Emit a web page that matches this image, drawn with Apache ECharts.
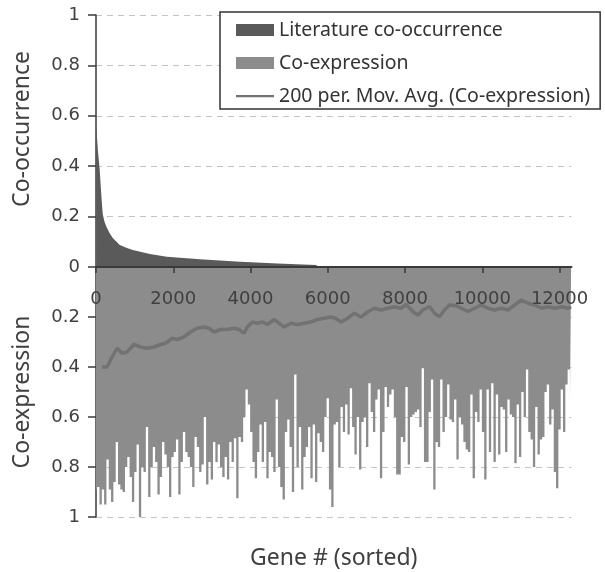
<!DOCTYPE html>
<html>
<head>
    <meta charset="utf-8">
    <script src="https://cdn.jsdelivr.net/npm/echarts@6.0.0/dist/echarts.min.js"></script>
    <style>
        html, body { margin: 0; padding: 0; background: #fff; }
        #main { width: 605px; height: 572px; }
    </style>
</head>
<body>
    <div id="main"></div>
    <script>
        // x axis tick labels (gene rank)
        var geneTicks = [0, 2000, 4000, 6000, 8000, 10000, 12000];
        var geneMax = 12310;

        // literature co-occurrence (sorted, decaying)
        var litGenes = [0, 10, 50, 96, 140, 174, 220, 270, 350, 434, 615, 800, 953, 1394, 1835, 2692, 3730, 4700, 5700, 5750];
        var litValues = [0.56, 0.55, 0.46, 0.385, 0.28, 0.21, 0.18, 0.16, 0.135, 0.115, 0.087, 0.075, 0.067, 0.052, 0.041, 0.031, 0.021, 0.014, 0.008, 0];

        // co-expression, one value per bin of 60 genes
        var binSize = 60;
        var coexprValues = [
            0.90, 0.88, 0.95, 0.89, 0.95, 0.77, 0.89, 0.94, 0.86, 0.70,
            0.87, 0.89, 0.90, 0.80, 0.76, 0.84, 0.94, 0.82, 0.71, 1.00,
            0.80, 0.82, 0.64, 0.92, 0.80, 0.72, 0.78, 0.91, 0.84, 0.70,
            0.75, 0.80, 0.92, 0.76, 0.74, 0.69, 0.91, 0.78, 0.66, 0.74,
            0.76, 0.80, 0.88, 0.68, 0.72, 0.82, 0.79, 0.60, 0.87, 0.78,
            0.85, 0.70,
            0.78, 0.71, 0.80, 0.84, 0.76, 0.85, 0.70, 0.78, 0.685, 0.925,
            0.68, 0.70, 0.60, 0.49, 0.55, 0.66, 0.78, 0.845, 0.74, 0.63,
            0.78, 0.62, 0.845, 0.74, 0.76, 0.82, 0.53, 0.80, 0.88, 0.93,
            0.66, 0.61, 0.72, 0.90, 0.43, 0.80, 0.64, 0.89, 0.76, 0.72,
            0.64, 0.845, 0.63, 0.86, 0.665, 0.70, 0.74, 0.60, 0.525, 0.89,
            0.96, 0.63,
            0.62, 0.80, 0.56, 0.66, 0.55, 0.67, 0.485, 0.64, 0.75, 0.60,
            0.81, 0.62, 0.60, 0.72, 0.465, 0.58, 0.66, 0.53, 0.49, 0.845,
            0.66, 0.48, 0.56, 0.51, 0.49, 0.60, 0.83, 0.83, 0.68, 0.70,
            0.48, 0.79, 0.60, 0.59, 0.58, 0.57, 0.64, 0.405, 0.78, 0.78,
            0.58, 0.45, 0.89, 0.70, 0.72, 0.45, 0.66, 0.60, 0.47, 0.61,
            0.62, 0.53,
            0.77, 0.60, 0.63, 0.70, 0.73, 0.74, 0.51, 0.845, 0.58, 0.62,
            0.49, 0.66, 0.85, 0.49, 0.74, 0.465, 0.78, 0.51, 0.75, 0.56,
            0.57, 0.74, 0.53, 0.59, 0.60, 0.785, 0.55, 0.76, 0.50, 0.60,
            0.41, 0.66, 0.69, 0.80, 0.56, 0.75, 0.69, 0.68, 0.50, 0.47,
            0.63, 0.57, 0.82, 0.885, 0.65, 0.49, 0.66, 0.47, 0.41, 0.54
        ];

        // 200 per. moving average of co-expression
        var maGenes = [156, 286, 416, 546, 676, 805, 978, 1151, 1324, 1497,
            1670, 1800, 1973, 2103, 2276, 2449, 2622, 2795, 2925, 3054,
            3227, 3400, 3573, 3703, 3833, 3919, 4049, 4179, 4309, 4438,
            4611, 4741, 4871, 5044, 5217, 5390, 5563, 5736, 5909, 6082,
            6200, 6341, 6514, 6687, 6860, 7033, 7206, 7379, 7552, 7725,
            7898, 8028, 8201, 8331, 8460, 8633, 8763, 8893, 9023, 9152,
            9325, 9455, 9628, 9801, 9974, 10147, 10320, 10493, 10666, 10839,
            11012, 11185, 11358, 11531, 11704, 11877, 12050, 12223, 12300];
        var maValues = [0.40, 0.40, 0.36, 0.325, 0.345, 0.34, 0.31, 0.32, 0.325, 0.32,
            0.31, 0.305, 0.285, 0.29, 0.28, 0.26, 0.245, 0.24, 0.245, 0.26,
            0.25, 0.25, 0.245, 0.25, 0.265, 0.24, 0.22, 0.225, 0.22, 0.23,
            0.21, 0.225, 0.24, 0.225, 0.23, 0.225, 0.22, 0.21, 0.205, 0.20,
            0.205, 0.22, 0.205, 0.185, 0.20, 0.18, 0.165, 0.172, 0.165, 0.16,
            0.165, 0.15, 0.178, 0.192, 0.172, 0.158, 0.185, 0.199, 0.172, 0.152,
            0.155, 0.165, 0.178, 0.165, 0.152, 0.165, 0.172, 0.165, 0.172, 0.152,
            0.132, 0.145, 0.152, 0.165, 0.159, 0.165, 0.159, 0.165, 0.159];

        var seriesNames = ['Literature co-occurrence', 'Co-expression', '200 per. Mov. Avg. (Co-expression)'];

        var axisColor = '#3a3a3a';
        var textColor = '#404040';
        var nameFont = 'Noto Sans';

        function pairs(xs, ys) {
            return xs.map(function (x, i) { return [x, ys[i]]; });
        }

        var chart = echarts.init(document.getElementById('main'));

        var option = {
            animation: false,
            backgroundColor: '#fff',
            grid: [
                { left: 96, right: 33.5, top: 15, height: 252 },
                { left: 96, right: 33.5, top: 267, height: 250 }
            ],
            legend: {
                orient: 'vertical',
                left: 220,
                top: 12,
                padding: [8, 10, 3, 16],
                itemWidth: 38,
                itemHeight: 12,
                itemGap: 13,
                borderColor: '#333',
                borderWidth: 1.5,
                backgroundColor: '#fff',
                textStyle: { fontFamily: nameFont, fontSize: 19.5, color: '#333', lineHeight: 20 },
                data: [
                    { name: seriesNames[0], icon: 'rect' },
                    { name: seriesNames[1], icon: 'rect' },
                    // thin line icon, no marker
                    { name: seriesNames[2], icon: 'path://M0,0 M0,5 L38,5 L38,7.2 L0,7.2 Z M38,12' }
                ]
            },
            xAxis: [
                {
                    type: 'value',
                    gridIndex: 0,
                    min: 0,
                    max: geneMax,
                    z: 10,
                    axisLine: { show: true, lineStyle: { color: axisColor, width: 2 } },
                    axisTick: { show: true, length: 6, customValues: geneTicks, lineStyle: { color: axisColor, width: 1.5 } },
                    axisLabel: {
                        customValues: geneTicks,
                        margin: 23,
                        fontFamily: 'DejaVu Sans',
                        fontSize: 18,
                        color: textColor,
                        formatter: function (v) { return String(v); }
                    },
                    splitLine: { show: false }
                },
                {
                    type: 'value',
                    gridIndex: 1,
                    min: 0,
                    max: geneMax,
                    axisLine: { show: false },
                    axisTick: { show: false },
                    axisLabel: { show: false },
                    splitLine: { show: false },
                    name: 'Gene # (sorted)',
                    nameLocation: 'middle',
                    nameGap: 30,
                    nameTextStyle: { fontFamily: nameFont, fontSize: 23, color: textColor }
                }
            ],
            yAxis: [
                {
                    type: 'value',
                    gridIndex: 0,
                    min: 0,
                    max: 1,
                    interval: 0.2,
                    axisLine: { show: true, lineStyle: { color: axisColor, width: 1.5 } },
                    axisTick: { show: true, length: 8, lineStyle: { color: axisColor, width: 1.5 } },
                    axisLabel: { margin: 16, fontFamily: 'DejaVu Sans', fontSize: 18, color: textColor },
                    splitLine: { show: true, lineStyle: { color: '#c4c4c4', type: [6, 5], width: 1.2 } },
                    name: 'Co-occurrence',
                    nameLocation: 'middle',
                    nameGap: 62,
                    nameTextStyle: { fontFamily: nameFont, fontSize: 23, color: textColor, padding: [0, 0, 0, 24] }
                },
                {
                    type: 'value',
                    gridIndex: 1,
                    min: 0,
                    max: 1,
                    interval: 0.2,
                    inverse: true,
                    axisLine: { show: true, lineStyle: { color: axisColor, width: 1.5 } },
                    axisTick: { show: true, length: 8, lineStyle: { color: axisColor, width: 1.5 } },
                    axisLabel: {
                        margin: 16,
                        fontFamily: 'DejaVu Sans',
                        fontSize: 18,
                        color: textColor,
                        formatter: function (v) { return v === 0 ? '' : v; }
                    },
                    splitLine: { show: true, lineStyle: { color: '#c4c4c4', type: [6, 5], width: 1.2 } },
                    name: 'Co-expression',
                    nameLocation: 'middle',
                    nameGap: 62,
                    nameTextStyle: { fontFamily: nameFont, fontSize: 23, color: textColor }
                }
            ],
            series: [
                {
                    name: seriesNames[0],
                    type: 'line',
                    xAxisIndex: 0,
                    yAxisIndex: 0,
                    symbol: 'none',
                    color: '#5a5a5a',
                    lineStyle: { width: 0 },
                    areaStyle: { color: '#5a5a5a', opacity: 1 },
                    data: pairs(litGenes, litValues)
                },
                {
                    name: seriesNames[1],
                    type: 'line',
                    xAxisIndex: 1,
                    yAxisIndex: 1,
                    symbol: 'none',
                    step: 'middle',
                    color: '#8c8c8c',
                    lineStyle: { width: 0 },
                    areaStyle: { color: '#8c8c8c', opacity: 1 },
                    data: coexprValues.map(function (v, i) { return [i * binSize, v]; })
                },
                {
                    name: seriesNames[2],
                    type: 'line',
                    xAxisIndex: 1,
                    yAxisIndex: 1,
                    symbol: 'none',
                    color: '#727272',
                    lineStyle: { width: 3.5, color: '#727272' },
                    data: pairs(maGenes, maValues)
                }
            ]
        };

        chart.setOption(option);
    </script>
</body>
</html>
